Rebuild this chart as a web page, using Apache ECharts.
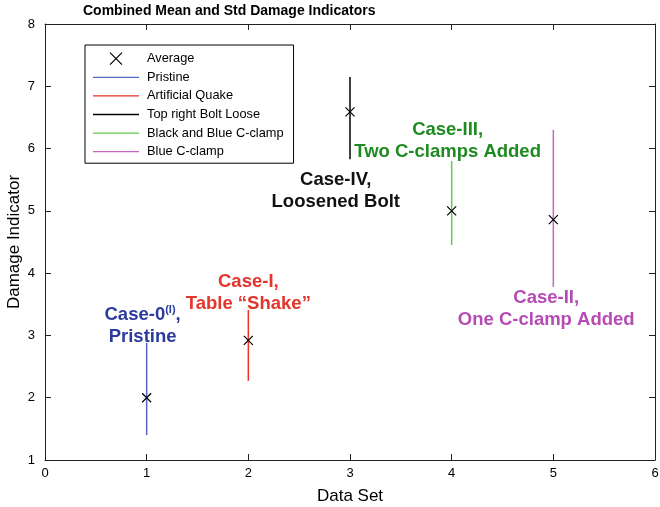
<!DOCTYPE html>
<html>
<head>
<meta charset="utf-8">
<script src="https://cdn.jsdelivr.net/npm/echarts@6/dist/echarts.min.js"></script>
<style>html,body{margin:0;padding:0;background:#fff;}#chart{width:660px;height:507px;}</style>
</head>
<body>
<div id="chart"></div>
<script>
// ---- data ----
const dataSets = [1, 2, 3, 4, 5];
const means = [2.0, 2.92, 6.59, 5.0, 4.86];
const lows = [1.40, 2.27, 5.83, 4.45, 3.78];
const highs = [2.88, 3.41, 7.15, 5.80, 6.30];
const seriesNames = ['Pristine', 'Artificial Quake', 'Top right Bolt Loose', 'Black and Blue C-clamp', 'Blue C-clamp'];
const lineColors = ['#5566c8', '#e8322a', '#000000', '#5fcc4a', '#c766c7'];
const annoX = [0.96, 2.0, 2.86, 3.96, 4.93];
const annoY = [3.15, 3.69, 5.32, 6.12, 3.42];
const annoText = [
  '{a|Case-0}{s|(I)}{a|,}\n{a|Pristine}',
  '{a|Case-I,}\n{a|Table \u201cShake\u201d}',
  '{a|Case-IV,}\n{a|Loosened Bolt}',
  '{a|Case-III,}\n{a|Two C-clamps Added}',
  '{a|Case-II,}\n{a|One C-clamp Added}'
];
const annoColors = ['#2b3c9c', '#e2352b', '#111111', '#1f8a1f', '#b64bb6'];
const xTicks = [0, 1, 2, 3, 4, 5, 6];
const yTicks = [1, 2, 3, 4, 5, 6, 7, 8];

const FONT = 'Liberation Sans, Arial, Helvetica, sans-serif';
const xMark = 'path://M0,0L10,10M10,0L0,10';
const lineIcon = 'path://M0,0H46V1.3H0Z';

const chart = echarts.init(document.getElementById('chart'), null, {renderer: 'canvas'});

const series = [];
seriesNames.forEach((name, i) => {
  series.push({
    name: name,
    type: 'custom',
    xAxisIndex: 0, yAxisIndex: 0,
    itemStyle: {color: lineColors[i]},
    encode: {x: 0, y: [1, 2]},
    data: [[dataSets[i], lows[i], highs[i]]],
    renderItem: function (params, api) {
      const x = api.value(0);
      const p1 = api.coord([x, api.value(1)]);
      const p2 = api.coord([x, api.value(2)]);
      return {
        type: 'line',
        shape: {x1: p1[0], y1: p1[1], x2: p2[0], y2: p2[1]},
        style: {stroke: lineColors[i], lineWidth: 1.5}
      };
    },
    z: 2
  });
});
series.push({
  name: 'Average',
  type: 'scatter',
  xAxisIndex: 0, yAxisIndex: 0,
  symbol: xMark,
  symbolSize: 9,
  itemStyle: {color: 'rgba(0,0,0,0)', borderColor: '#000', borderWidth: 1.2, opacity: 1},
  data: dataSets.map((d, i) => [d, means[i]]),
  z: 5
});
series.push({
  name: 'annotations',
  type: 'scatter',
  xAxisIndex: 0, yAxisIndex: 0,
  symbolSize: 0,
  silent: true,
  itemStyle: {opacity: 1},
  data: annoX.map((x, i) => ({
    value: [x, annoY[i]],
    label: {
      show: true,
      position: 'inside',
      formatter: annoText[i],
      align: 'center',
      verticalAlign: 'middle',
      opacity: 1,
      rich: {
        a: {fontFamily: FONT, fontWeight: 'bold', fontSize: 18.5, lineHeight: 22, color: annoColors[i]},
        s: {fontFamily: FONT, fontWeight: 'bold', fontSize: 11, lineHeight: 22, color: annoColors[i], padding: [0, 0, 10, 0]}
      }
    }
  })),
  z: 6
});

const axisCommon = {
  type: 'value',
  axisLine: {show: true, onZero: false, lineStyle: {color: '#222', width: 1}},
  axisTick: {show: true, inside: true, length: 6, lineStyle: {color: '#222'}},
  splitLine: {show: false},
  axisLabel: {color: '#000', fontFamily: FONT, fontSize: 13}
};

const option = {
  animation: false,
  backgroundColor: '#fff',
  title: {
    text: 'Combined Mean and Std Damage Indicators',
    left: 83, top: 4, padding: 0,
    textStyle: {fontFamily: FONT, fontWeight: 'bold', fontSize: 14, color: '#000'}
  },
  grid: {left: 45, right: 5, top: 24, bottom: 47, containLabel: false, outerBoundsMode: 'none'},
  legend: {
    orient: 'vertical',
    left: 85, top: 45,
    padding: [7, 10, 5, 8],
    itemWidth: 46, itemHeight: 12, itemGap: 5.6,
    borderColor: '#000', borderWidth: 1,
    backgroundColor: '#fff',
    textStyle: {fontFamily: FONT, fontSize: 12.8, color: '#000', padding: [0, 0, 0, 3]},
    data: [{name: 'Average', icon: xMark, itemStyle: {color: 'rgba(0,0,0,0)', borderColor: '#000', borderWidth: 1.2}}]
      .concat(seriesNames.map((n, i) => ({name: n, icon: lineIcon, itemStyle: {color: lineColors[i], borderWidth: 0}}))),
    selectedMode: false,
    z: 10
  },
  xAxis: [
    Object.assign({}, axisCommon, {
      position: 'bottom', min: 0, max: 6, interval: 1,
      name: 'Data Set', nameLocation: 'middle', nameGap: 28, nameMoveOverlap: false,
      nameTextStyle: {fontFamily: FONT, fontSize: 17, color: '#000'},
      axisLabel: Object.assign({}, axisCommon.axisLabel, {margin: 7, formatter: v => xTicks.includes(v) ? String(v) : ''})
    }),
    Object.assign({}, axisCommon, {position: 'top', min: 0, max: 6, interval: 1, axisLabel: {show: false}})
  ],
  yAxis: [
    Object.assign({}, axisCommon, {
      position: 'left', min: 1, max: 8, interval: 1,
      name: 'Damage Indicator', nameLocation: 'middle', nameGap: 22, nameMoveOverlap: false,
      nameTextStyle: {fontFamily: FONT, fontSize: 17, color: '#000'},
      axisLabel: Object.assign({}, axisCommon.axisLabel, {margin: 10, formatter: v => yTicks.includes(v) ? String(v) : ''})
    }),
    Object.assign({}, axisCommon, {position: 'right', min: 1, max: 8, interval: 1, axisLabel: {show: false}})
  ],
  series: series
};
chart.setOption(option);
</script>
</body>
</html>
